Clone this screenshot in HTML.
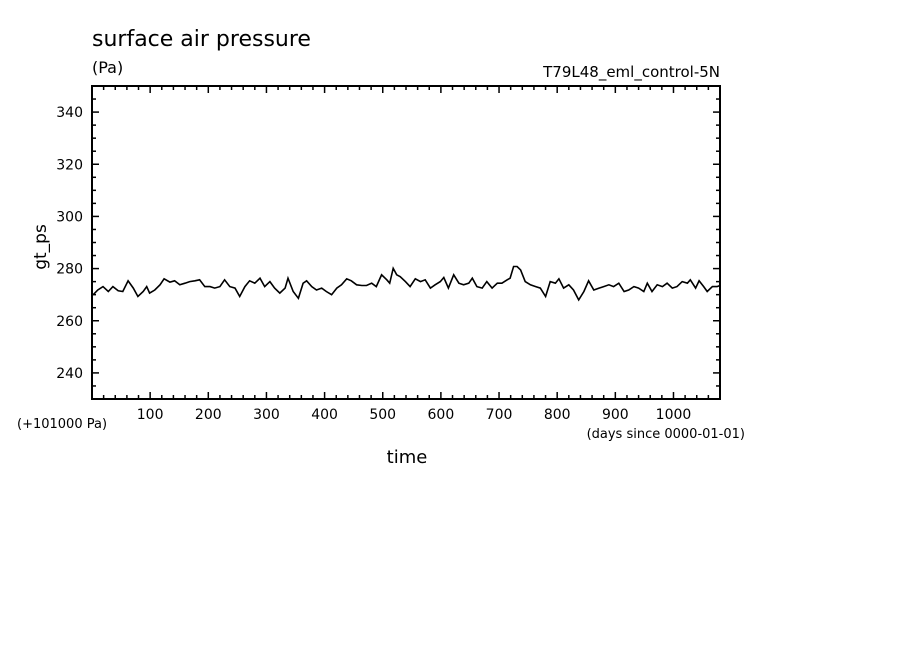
<!DOCTYPE html>
<html><head><meta charset="utf-8"><style>
html,body{margin:0;padding:0;background:#fff;}
svg{display:block;font-family:"DejaVu Sans","Liberation Sans",sans-serif;}
</style></head><body>
<svg id="chart" width="904" height="654" viewBox="0 0 904 654" xmlns="http://www.w3.org/2000/svg">
<text x="92" y="46" font-size="22" fill="#000">surface air pressure</text>
<text x="92" y="73" font-size="16" fill="#000">(Pa)</text>
<text x="720" y="77" font-size="15" text-anchor="end" fill="#000">T79L48_eml_control-5N</text>
<text x="0" y="0" font-size="17" text-anchor="middle" transform="translate(46,247) rotate(-90)" fill="#000">gt_ps</text>
<text x="407" y="463" font-size="18" text-anchor="middle" fill="#000">time</text>
<text x="17" y="428" font-size="13" fill="#000">(+101000 Pa)</text>
<text x="745" y="438" font-size="13" text-anchor="end" fill="#000">(days since 0000-01-01)</text>
<g id="axes"></g>
<path id="series" fill="none" stroke="#000" stroke-width="1.6"/>
<rect x="92" y="86" width="628" height="313" fill="none" stroke="#000" stroke-width="2"/>
</svg>
<script>
const days = [2,10,19,28,36,45,53,62,71,79,88,94,99,108,117,124,134,142,151,160,168,177,185,194,203,211,220,228,237,246,254,263,271,280,289,297,306,314,323,332,337,346,355,363,369,378,386,395,403,412,421,429,438,446,455,464,472,481,489,498,507,512,518,524,530,539,547,556,565,573,582,590,599,605,613,622,631,639,648,654,662,671,679,688,697,705,714,719,725,731,737,745,754,763,771,780,788,797,803,811,820,828,837,846,854,863,872,880,889,897,906,915,923,932,940,949,955,963,972,981,989,998,1006,1015,1024,1029,1038,1044,1052,1058,1067,1075,1080];
const values = [270.0,271.8,273.1,271.2,273.1,271.5,271.2,275.3,272.5,269.3,271.2,273.1,270.6,271.8,273.8,276.1,274.8,275.3,273.8,274.4,275.0,275.3,275.7,273.1,273.1,272.5,273.1,275.7,273.1,272.5,269.3,273.1,275.3,274.4,276.3,273.1,275.0,272.5,270.6,272.5,276.3,271.2,268.6,274.4,275.3,273.1,271.8,272.5,271.2,270.0,272.5,273.8,276.1,275.3,273.8,273.5,273.5,274.4,273.1,277.6,275.7,274.4,280.1,277.6,276.9,275.0,273.1,276.1,275.0,275.7,272.5,273.8,275.0,276.6,272.5,277.6,274.4,273.8,274.4,276.3,273.1,272.5,275.0,272.5,274.4,274.4,275.7,276.3,280.8,280.8,279.5,275.0,273.8,273.1,272.5,269.3,275.0,274.4,276.1,272.5,273.8,271.8,268.0,271.2,275.3,271.8,272.5,273.1,273.8,273.1,274.4,271.2,271.8,273.1,272.5,271.2,274.4,271.2,273.8,273.1,274.4,272.5,273.1,275.0,274.4,275.7,272.5,275.3,273.1,271.2,273.1,273.1,273.5];
const xTickLabels = [100,200,300,400,500,600,700,800,900,1000];
const yTickLabels = [240,260,280,300,320,340];

const X0=92,X1=720,Y0=399,Y1=86,XMIN=0,XMAX=1080,YMIN=230,YMAX=350;
const xs=d=>X0+(d-XMIN)/(XMAX-XMIN)*(X1-X0);
const ys=v=>Y0-(v-YMIN)/(YMAX-YMIN)*(Y0-Y1);
const NS="http://www.w3.org/2000/svg";
const axes=document.getElementById('axes');
function line(x1,y1,x2,y2){const l=document.createElementNS(NS,'line');
l.setAttribute('x1',x1);l.setAttribute('y1',y1);l.setAttribute('x2',x2);l.setAttribute('y2',y2);
l.setAttribute('stroke','#000');l.setAttribute('stroke-width','1.5');


axes.appendChild(l);}
for(let d=20;d<XMAX;d+=20){const x=xs(d);const len=d%100===0?7:4;line(x,Y0,x,Y0-len);line(x,Y1,x,Y1+len);}
for(let v=235;v<YMAX;v+=5){const y=ys(v);const len=v%20===0?7:4;line(X0,y,X0+len,y);line(X1,y,X1-len,y);}
xTickLabels.forEach(t=>{const e=document.createElementNS(NS,'text');
e.setAttribute('x',xs(t));e.setAttribute('y',Y0+20);e.setAttribute('font-size','14');e.setAttribute('text-anchor','middle');


e.textContent=t;axes.appendChild(e);});
yTickLabels.forEach(t=>{const e=document.createElementNS(NS,'text');
e.setAttribute('x',X0-9);e.setAttribute('y',ys(t)+5);e.setAttribute('font-size','14');e.setAttribute('text-anchor','end');


e.textContent=t;axes.appendChild(e);});
let dstr='';days.forEach((d,i)=>{dstr+=(i?'L':'M')+xs(d).toFixed(1)+','+ys(values[i]).toFixed(1);});
document.getElementById('series').setAttribute('d',dstr);
</script>
</body></html>
